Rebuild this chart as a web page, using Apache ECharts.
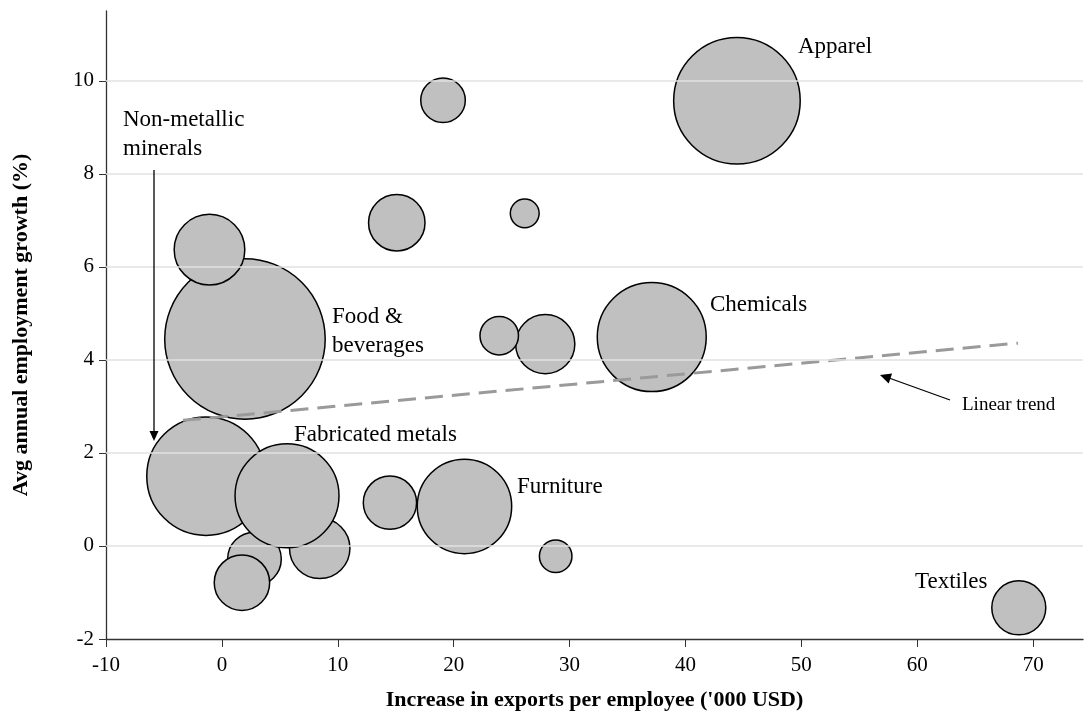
<!DOCTYPE html>
<html><head><meta charset="utf-8">
<script src="https://cdn.jsdelivr.net/npm/echarts@6/dist/echarts.min.js"></script>
<style>html,body{margin:0;padding:0;background:#fff}#c{width:1085px;height:728px}</style>
</head><body><div id="c"></div>
<script>
// Bubble data (draw order: first drawn at the bottom)
const sectors = ['Food & beverages','Sector A','Non-metallic minerals','Sector B','Sector C','Sector D','Fabricated metals','Sector E','Sector F','Apparel','Sector G','Sector H','Sector I','Chemicals','Sector J','Furniture','Sector K','Textiles'];
const exportsIncrease = [1.99, -1.07, -1.37, 2.81, 1.73, 8.44, 5.62, 27.9, 23.93, 44.44, 19.08, 15.09, 26.13, 37.09, 14.5, 20.93, 28.8, 68.76];
const employmentGrowth = [4.45, 6.37, 1.50, -0.28, -0.79, -0.05, 1.08, 4.34, 4.52, 9.57, 9.58, 6.95, 7.15, 4.49, 0.93, 0.85, -0.22, -1.33];
const bubbleWeight = [65.6, 13.0, 36.0, 7.6, 8.1, 9.6, 27.8, 9.2, 4.0, 41.0, 5.3, 8.4, 2.3, 30.5, 7.5, 23.0, 2.9, 7.7];
const xTicks = [-10, 0, 10, 20, 30, 40, 50, 60, 70];
const yTicks = [-2, 0, 2, 4, 6, 8, 10];
const gridValues = [0, 2, 4, 6, 8, 10];
const trendX = [-3.36, 68.69];
const trendY = [2.70, 4.36];

const FONT = 'Liberation Serif';
const chart = echarts.init(document.getElementById('c'));
const bubbles = exportsIncrease.map((x, i) => ({name: sectors[i], value: [x, employmentGrowth[i], bubbleWeight[i]]}));
const trend = trendX.map((x, i) => [x, trendY[i]]);

function txt(x, y, s, size, align) {
  return {type: 'text', x: x, y: y, z: 100, style: {text: s, fontFamily: FONT, fontSize: size || 23, fill: '#000', align: align || 'left', verticalAlign: 'middle', lineHeight: 29}};
}

chart.setOption({
  animation: false,
  backgroundColor: '#fff',
  grid: {left: 106, right: 2, top: 11, bottom: 89},
  xAxis: {
    type: 'value', min: -10, max: 74.3, interval: 10,
    name: "Increase in exports per employee ('000 USD)", nameLocation: 'middle', nameGap: 50,
    nameTextStyle: {fontFamily: FONT, fontSize: 22, fontWeight: 'bold', color: '#000'},
    axisLine: {show: true, onZero: false, lineStyle: {color: '#333', width: 1.3}},
    axisTick: {show: true, length: 8, customValues: xTicks, lineStyle: {color: '#333'}},
    axisLabel: {customValues: xTicks, fontFamily: FONT, fontSize: 21, color: '#000', margin: 16},
    splitLine: {show: false}
  },
  yAxis: {
    type: 'value', min: -2, max: 11.5, interval: 2,
    name: 'Avg annual employment growth (%)', nameLocation: 'middle', nameGap: 74,
    nameTextStyle: {fontFamily: FONT, fontSize: 22, fontWeight: 'bold', color: '#000'},
    axisLine: {show: true, onZero: false, lineStyle: {color: '#333', width: 1.3}},
    axisTick: {show: true, length: 7, customValues: yTicks, lineStyle: {color: '#333'}},
    axisLabel: {customValues: yTicks, fontFamily: FONT, fontSize: 21, color: '#000', margin: 12},
    splitLine: {show: false}
  },
  series: [
    {
      type: 'line', data: [], z: 1, silent: true,
      markLine: {
        silent: true, symbol: 'none', animation: false,
        label: {show: false},
        lineStyle: {color: '#e2e2e2', width: 1.5, type: 'solid'},
        data: gridValues.map(v => ({yAxis: v}))
      }
    },
    {
      type: 'scatter', z: 2,
      data: bubbles,
      symbolSize: v => 20 * Math.sqrt(v[2]) - 1.5,
      itemStyle: {color: '#c0c0c0', borderColor: '#000', borderWidth: 1.5, opacity: 1}
    },
    {
      type: 'line', z: 3, data: trend, symbol: 'none', silent: true,
      lineStyle: {color: '#9a9a9a', width: 3, type: [18, 9]}
    }
  ],
  graphic: [
    txt(798, 47, 'Apparel'),
    txt(710, 305, 'Chemicals'),
    txt(332, 331, 'Food &\nbeverages'),
    txt(123, 134, 'Non-metallic\nminerals'),
    txt(294, 435, 'Fabricated metals'),
    txt(517, 487, 'Furniture'),
    txt(915, 582, 'Textiles'),
    txt(962, 405, 'Linear trend', 19),
    {type: 'line', z: 100, shape: {x1: 154, y1: 170, x2: 154, y2: 433}, style: {stroke: '#000', lineWidth: 1.3}},
    {type: 'polygon', z: 100, shape: {points: [[149.5, 431], [158.5, 431], [154, 441]]}, style: {fill: '#000'}},
    {type: 'line', z: 100, shape: {x1: 950, y1: 400, x2: 889, y2: 378}, style: {stroke: '#000', lineWidth: 1.3}},
    {type: 'polygon', z: 100, shape: {points: [[892.1, 373.6], [888.7, 383.6], [880, 375]]}, style: {fill: '#000'}}
  ]
});
</script></body></html>
